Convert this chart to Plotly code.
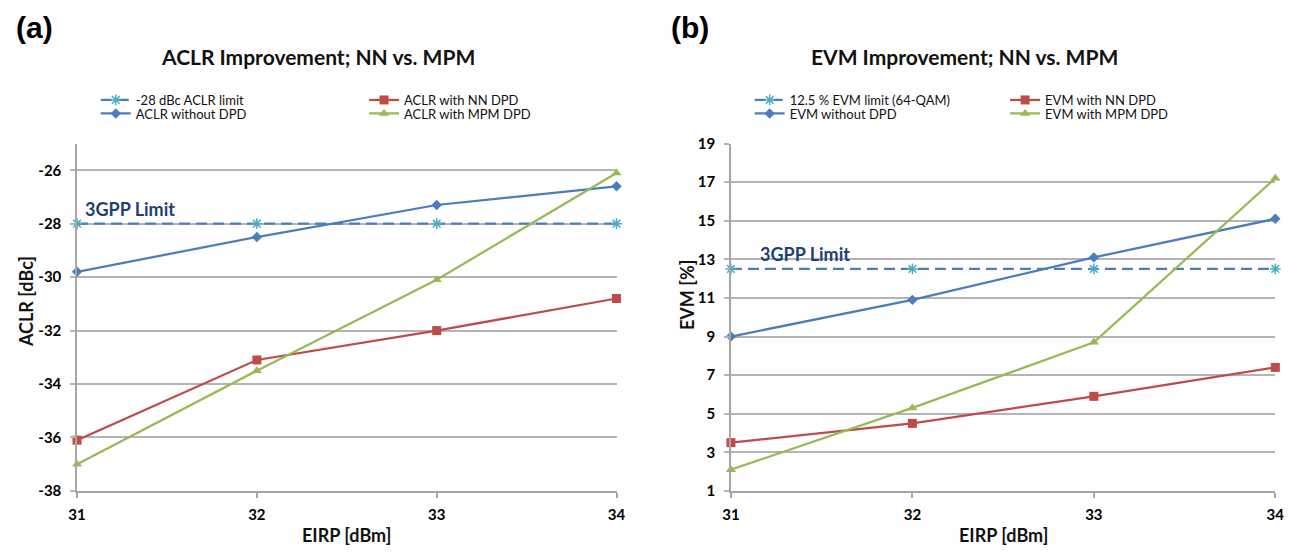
import plotly.graph_objects as go

# ---------------- data ----------------
eirp = [31, 32, 33, 34]

aclr_limit = [-28, -28, -28, -28]
aclr_no_dpd = [-29.8, -28.5, -27.3, -26.6]
aclr_nn_dpd = [-36.1, -33.1, -32.0, -30.8]
aclr_mpm_dpd = [-37.0, -33.5, -30.1, -26.1]

evm_limit = [12.5, 12.5, 12.5, 12.5]
evm_no_dpd = [9.0, 10.9, 13.1, 15.1]
evm_nn_dpd = [3.5, 4.5, 5.9, 7.4]
evm_mpm_dpd = [2.1, 5.3, 8.7, 17.2]

aclr_ticks = [-38, -36, -34, -32, -30, -28, -26]
aclr_tick_labels = ["-38", "-36", "-34", "-32", "-30", "-28", "-26"]
evm_ticks = [1, 3, 5, 7, 9, 11, 13, 15, 17, 19]
evm_tick_labels = ["1", "3", "5", "7", "9", "11", "13", "15", "17", "19"]

aclr_names = ["-28 dBc ACLR limit", "ACLR without DPD", "ACLR with NN DPD", "ACLR with MPM DPD"]
evm_names = ["12.5 % EVM limit (64-QAM)", "EVM without DPD", "EVM with NN DPD", "EVM with MPM DPD"]

# ---------------- style ----------------
W, H = 1308, 556
FONT = "Lato"
BLUE = "#4A7EBB"
RED = "#BE4B48"
GREEN = "#98B954"
CYAN = "#4BACC6"
GRID = "#B4B4B4"
AXIS = "#A6A6A6"
TXT = "#111111"
NAVY = "#1F3F77"


def px(x):
    return x / W


def py(y):
    return 1 - y / H


fig = go.Figure()

panels = [
    dict(xa="x", ya="y", names=aclr_names,
         series=[aclr_limit, aclr_no_dpd, aclr_nn_dpd, aclr_mpm_dpd],
         legends=["legend", "legend2", "legend3", "legend4"]),
    dict(xa="x2", ya="y2", names=evm_names,
         series=[evm_limit, evm_no_dpd, evm_nn_dpd, evm_mpm_dpd],
         legends=["legend5", "legend6", "legend7", "legend8"]),
]

styles = [
    dict(line=dict(color=BLUE, width=2.25, dash="11px,6px"),
         marker=dict(symbol="asterisk-open", size=9, color=CYAN, line=dict(color=CYAN, width=1.5))),
    dict(line=dict(color=BLUE, width=2.25),
         marker=dict(symbol="diamond", size=8, color=BLUE)),
    dict(line=dict(color=RED, width=2.25),
         marker=dict(symbol="square", size=9, color=RED)),
    dict(line=dict(color=GREEN, width=2.25),
         marker=dict(symbol="triangle-up", size=9, color=GREEN)),
]

for p in panels:
    for name, ys, st, lg in zip(p["names"], p["series"], styles, p["legends"]):
        fig.add_trace(go.Scatter(
            x=eirp, y=ys, name=name, mode="lines+markers",
            line=st["line"], marker=st["marker"],
            xaxis=p["xa"], yaxis=p["ya"], legend=lg, cliponaxis=False,
        ))

ydom = [py(497), py(138)]
common_x = dict(range=[31, 34], tickvals=eirp, showgrid=False, zeroline=False,
                showline=True, linecolor=AXIS, linewidth=1.5,
                ticks="outside", ticklen=5, tickcolor=AXIS, tickwidth=1.5,
                tickfont=dict(family=FONT, size=15, color="#000", weight="bold"),
                ticklabelstandoff=4, fixedrange=True)
common_y = dict(showgrid=True, gridcolor=GRID, gridwidth=1.5, zeroline=False,
                showline=True, linecolor=AXIS, linewidth=1.5,
                ticks="outside", ticklen=5, tickcolor=GRID, tickwidth=1.5,
                tickfont=dict(family=FONT, size=15, color="#000", weight="bold"),
                ticklabelstandoff=6, fixedrange=True)

legend_base = dict(font=dict(family=FONT, size=13, color=TXT), bgcolor="rgba(0,0,0,0)",
                   xanchor="left", yanchor="middle", itemwidth=30,
                   orientation="v", tracegroupgap=0)

leg_pos = {
    "legend": (88, 93), "legend2": (88, 107), "legend3": (360, 93), "legend4": (360, 107),
    "legend5": (751, 93), "legend6": (751, 107), "legend7": (1010, 93), "legend8": (1010, 107),
}
legends = {k: dict(legend_base, x=px(v[0]), y=py(v[1])) for k, v in leg_pos.items()}

annotations = [
    dict(text="(a)", x=px(5), y=py(18), xanchor="left", yanchor="middle",
         font=dict(family="Liberation Sans", size=30, color="#000", weight="bold")),
    dict(text="(b)", x=px(669), y=py(18), xanchor="left", yanchor="middle",
         font=dict(family="Liberation Sans", size=30, color="#000", weight="bold")),
    dict(text="ACLR Improvement; NN vs. MPM", x=px(313), y=py(48), xanchor="center", yanchor="middle",
         font=dict(family=FONT, size=21, color=TXT, weight="bold")),
    dict(text="EVM Improvement; NN vs. MPM", x=px(969), y=py(48), xanchor="center", yanchor="middle",
         font=dict(family=FONT, size=21, color=TXT, weight="bold")),
    dict(text="ACLR [dBc]", x=px(18), y=py(301), xanchor="center", yanchor="middle", textangle=-90,
         font=dict(family=FONT, size=18, color=TXT, weight="bold")),
    dict(text="EVM [%]", x=px(688), y=py(295), xanchor="center", yanchor="middle", textangle=-90,
         font=dict(family=FONT, size=18, color=TXT, weight="bold")),
    dict(text="EIRP [dBm]", x=px(342), y=py(543), xanchor="center", yanchor="middle",
         font=dict(family=FONT, size=18, color=TXT, weight="bold")),
    dict(text="EIRP [dBm]", x=px(1008), y=py(543), xanchor="center", yanchor="middle",
         font=dict(family=FONT, size=18, color=TXT, weight="bold")),
]
for a in annotations:
    a.update(xref="paper", yref="paper", showarrow=False)

annotations += [
    dict(text="3GPP Limit", xref="x", yref="y", x=31, y=aclr_limit[0], xanchor="left", yanchor="bottom",
         xshift=6, yshift=2, showarrow=False,
         font=dict(family=FONT, size=18, color=NAVY, weight="bold")),
    dict(text="3GPP Limit", xref="x2", yref="y2", x=31, y=evm_limit[0], xanchor="left", yanchor="bottom",
         xshift=27, yshift=2, showarrow=False,
         font=dict(family=FONT, size=18, color=NAVY, weight="bold")),
]

fig.update_layout(
    width=W, height=H, autosize=False,
    margin=dict(l=0, r=0, t=0, b=0),
    paper_bgcolor="white", plot_bgcolor="white",
    xaxis=dict(common_x, domain=[px(69), px(616)], anchor="y"),
    yaxis=dict(common_y, domain=ydom, range=[-38, -25], tickvals=aclr_ticks,
               ticktext=aclr_tick_labels, anchor="x"),
    xaxis2=dict(common_x, domain=[px(732), px(1284)], anchor="y2"),
    yaxis2=dict(common_y, domain=ydom, range=[1, 19], tickvals=evm_ticks,
                ticktext=evm_tick_labels, anchor="x2"),
    annotations=annotations,
    showlegend=True,
    **legends,
)

fig.write_html("out.html")
